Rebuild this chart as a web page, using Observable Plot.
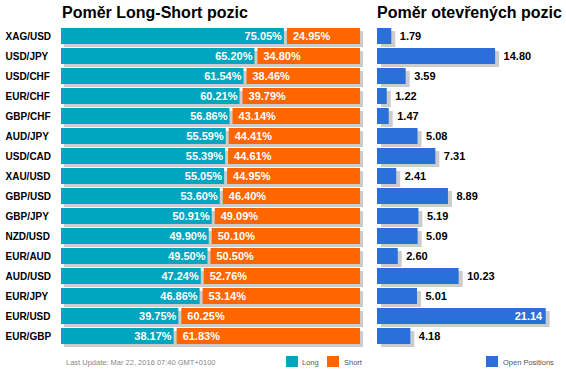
<!DOCTYPE html>
<html><head><meta charset="utf-8">
<script src="https://cdn.jsdelivr.net/npm/d3@7"></script>
<script src="https://cdn.jsdelivr.net/npm/@observablehq/plot@0.6"></script>
<style>
body{margin:0;background:#fff;font-family:"Liberation Sans",Arial,sans-serif;}
#wrap{position:relative;width:566px;height:373px;overflow:hidden;}
#wrap svg{position:absolute;left:0;top:0;}
.title{position:absolute;top:4px;font-size:16px;font-weight:bold;color:#000;white-space:nowrap;}
.small{position:absolute;font-size:7.5px;white-space:nowrap;}
.sw{position:absolute;width:12px;height:11px;}
</style></head>
<body>
<div id="wrap"></div>
<script>
const pairs = ["XAG/USD","USD/JPY","USD/CHF","EUR/CHF","GBP/CHF","AUD/JPY","USD/CAD","XAU/USD","GBP/USD","GBP/JPY","NZD/USD","EUR/AUD","AUD/USD","EUR/JPY","EUR/USD","EUR/GBP"];
const longPct = [75.05,65.20,61.54,60.21,56.86,55.59,55.39,55.05,53.60,50.91,49.90,49.50,47.24,46.86,39.75,38.17];
const shortPct = [24.95,34.80,38.46,39.79,43.14,44.41,44.61,44.95,46.40,49.09,50.10,50.50,52.76,53.14,60.25,61.83];
const openPos = [1.79,14.80,3.59,1.22,1.47,5.08,7.31,2.41,8.89,5.19,5.09,2.60,10.23,5.01,21.14,4.18];
const titleLeft = "Poměr Long-Short pozic";
const titleRight = "Poměr otevřených pozic";
const updateText = "Last Update: Mar 22, 2016 07:40 GMT+0100";
const legendLabels = ["Long","Short","Open Positions"];

const C_LONG = "#00a5bf", C_SHORT = "#ff6600", C_OPEN = "#2a70d8", C_SH = "#cccccc";
const rows = pairs.map((p,i)=>({pair:p, long:longPct[i], short:shortPct[i], open:openPos[i]}));
const maxOpen = d3.max(openPos);
const fmt2 = d3.format(".2f");

const yOpt = {domain: pairs, padding: 0.2, round: false};
const font = "Liberation Sans, Arial, sans-serif";

const left = Plot.plot({
  width: 370, height: 373,
  marginLeft: 61, marginRight: 10, marginTop: 24, marginBottom: 25,
  style: {fontFamily: font, background: "transparent", overflow: "visible"},
  x: {domain: [0, 100], axis: null},
  y: {...yOpt, axis: null, label: null},
  marks: [
    Plot.barX(rows, {x1: 0, x2: 100, y: "pair", fill: C_SH, dx: 3, dy: 3}),
    Plot.barX(rows, {x1: 0, x2: "long", y: "pair", fill: C_LONG, insetRight: 1.5}),
    Plot.barX(rows, {x1: "long", x2: 100, y: "pair", fill: C_SHORT, insetLeft: 1.5}),
    Plot.text(rows, {x: "long", y: "pair", text: d => fmt2(d.long) + "%", textAnchor: "end", dx: -4, fill: "white", fontWeight: "bold", fontSize: 11}),
    Plot.text(rows, {x: "long", y: "pair", text: d => fmt2(d.short) + "%", textAnchor: "start", dx: 7, fill: "white", fontWeight: "bold", fontSize: 11}),
    Plot.axisY({domain: pairs, label: null, tickSize: 0, tickPadding: 0, textAnchor: "start", dx: -56, fontWeight: "bold", fontSize: 10, fill: "#000"})
  ]
});

const right = Plot.plot({
  width: 566, height: 373,
  marginLeft: 377, marginRight: 20.3, marginTop: 24, marginBottom: 25,
  style: {fontFamily: font, background: "transparent", overflow: "visible"},
  x: {domain: [0, maxOpen], axis: null},
  y: {...yOpt, axis: null},
  marks: [
    Plot.barX(rows, {x1: 0, x2: "open", y: "pair", fill: C_SH, dx: 4, dy: 3}),
    Plot.barX(rows, {x1: 0, x2: "open", y: "pair", fill: C_OPEN}),
    Plot.text(rows.filter(d => d.open < maxOpen), {x: "open", y: "pair", text: d => fmt2(d.open), textAnchor: "start", dx: 8, fill: "#000", fontWeight: "bold", fontSize: 11}),
    Plot.text(rows.filter(d => d.open === maxOpen), {x: "open", y: "pair", text: d => fmt2(d.open), textAnchor: "end", dx: -4, fill: "white", fontWeight: "bold", fontSize: 11})
  ]
});

const wrap = document.getElementById("wrap");
wrap.appendChild(right);
wrap.appendChild(left);

function addDiv(cls, text, style){
  const d = document.createElement("div");
  d.className = cls; d.textContent = text; Object.assign(d.style, style); wrap.appendChild(d); return d;
}
addDiv("title", titleLeft, {left: "62px"});
addDiv("title", titleRight, {left: "377px"});
addDiv("small", updateText, {left: "66px", top: "358px", color: "#888"});
addDiv("sw", "", {left: "286px", top: "356px", background: C_LONG});
addDiv("small", legendLabels[0], {left: "302px", top: "358px", color: "#555"});
addDiv("sw", "", {left: "327px", top: "356px", background: C_SHORT});
addDiv("small", legendLabels[1], {left: "344px", top: "358px", color: "#555"});
addDiv("sw", "", {left: "486px", top: "356px", background: C_OPEN});
addDiv("small", legendLabels[2], {left: "503px", top: "358px", color: "#555"});
</script>
</body></html>
